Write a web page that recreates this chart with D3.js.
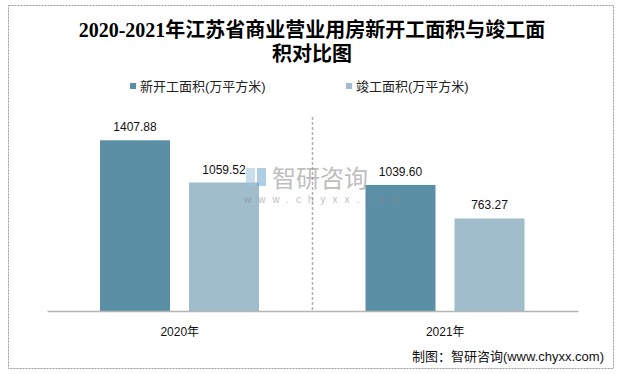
<!DOCTYPE html>
<html>
  <head>
    <meta charset="utf-8">
    <title>江苏省商业营业用房新开工面积与竣工面积</title>
    <style>
      body { margin: 0; background: #fff; }
      text { font-family: "Liberation Sans", "Noto Sans CJK SC", sans-serif; }
    </style>
  </head>
  <body>
    <script src="https://d3js.org/d3.v7.min.js"></script>
    <script>
      // data
      var years = ["2020年", "2021年"];
      var seriesNames = ["新开工面积(万平方米)", "竣工面积(万平方米)"];
      var newStart = [1407.88, 1039.60];
      var completed = [1059.52, 763.27];
      var colors = ["#5b8fa5", "#9fbdca"];

      var W = 626, H = 374;
      var margin = {top: 117, right: 48, bottom: 63, left: 47},
          width = W - margin.left - margin.right,
          height = H - margin.top - margin.bottom;

      var svg = d3.select("body").append("svg")
          .attr("width", W)
          .attr("height", H);

      // outer dotted frame
      svg.append("rect")
          .attr("x", 8.5).attr("y", 5.5)
          .attr("width", 605).attr("height", 363)
          .attr("fill", "none")
          .attr("stroke", "#9a9a9a")
          .attr("stroke-dasharray", "2,1");

      // title
      var title = svg.append("text")
          .attr("text-anchor", "middle")
          .style("font-family", "'Liberation Serif', 'Noto Sans CJK SC', serif")
          .style("font-weight", "bold")
          .style("font-size", "20px")
          .attr("fill", "#000");
      title.append("tspan").attr("x", 312).attr("y", 37).text("2020-2021年江苏省商业营业用房新开工面积与竣工面");
      title.append("tspan").attr("x", 312).attr("y", 61).text("积对比图");

      // scales
      var x0 = d3.scaleBand().domain(years).range([0, width]);
      var x1 = d3.scaleBand().domain([0, 1]).range([53, 212]).paddingInner(0.2135);
      var y = d3.scaleLinear().domain([0, 1600]).range([height, 0]);

      var g = svg.append("g")
          .attr("transform", "translate(" + margin.left + "," + margin.top + ")");

      // legend
      var legend = svg.append("g");
      var legendX = [130, 346];
      seriesNames.forEach(function(name, i) {
        legend.append("rect")
            .attr("x", legendX[i]).attr("y", 83)
            .attr("width", 6).attr("height", 6)
            .attr("fill", colors[i]);
        legend.append("text")
            .attr("x", legendX[i] + 10).attr("y", 91)
            .style("font-size", "13px")
            .attr("fill", "#222")
            .text(name);
      });

      // watermark
      var wm = svg.append("g").attr("opacity", 0.55);
      wm.append("rect").attr("x", 246).attr("y", 168).attr("width", 9).attr("height", 18).attr("fill", "#9fc3df");
      wm.append("rect").attr("x", 257).attr("y", 168).attr("width", 9).attr("height", 18).attr("fill", "#6fa6d0");
      wm.append("text")
          .attr("x", 272).attr("y", 187)
          .style("font-size", "24px")
          .attr("fill", "#8a8a8a")
          .text("智研咨询");
      wm.append("text")
          .attr("x", 244).attr("y", 203)
          .style("font-size", "10px")
          .style("letter-spacing", "7px")
          .attr("fill", "#8a8a8a")
          .text("www.chyxx.com");

      // dashed separator between categories
      g.append("line")
          .attr("x1", x0.bandwidth()).attr("x2", x0.bandwidth())
          .attr("y1", 0).attr("y2", height)
          .attr("stroke", "#b0b0b0")
          .attr("stroke-width", 1.5)
          .attr("stroke-dasharray", "3,2");

      var data = years.map(function(yr, i) {
        return {year: yr, values: [newStart[i], completed[i]]};
      });

      var groups = g.selectAll(".year")
          .data(data)
          .enter().append("g")
          .attr("class", "year")
          .attr("transform", function(d) { return "translate(" + x0(d.year) + ",0)"; });

      groups.selectAll("rect")
          .data(function(d) { return d.values; })
          .enter().append("rect")
          .attr("x", function(d, i) { return x1(i); })
          .attr("width", x1.bandwidth())
          .attr("y", function(d) { return y(d); })
          .attr("height", function(d) { return height - y(d); })
          .attr("fill", function(d, i) { return colors[i]; });

      groups.selectAll(".label")
          .data(function(d) { return d.values; })
          .enter().append("text")
          .attr("class", "label")
          .attr("x", function(d, i) { return x1(i) + x1.bandwidth() / 2; })
          .attr("y", function(d) { return y(d) - 9; })
          .attr("text-anchor", "middle")
          .style("font-size", "12px")
          .attr("fill", "#111")
          .text(function(d) { return d.toFixed(2); });

      // x axis
      var xAxis = g.append("g")
          .attr("transform", "translate(0," + height + ")")
          .call(d3.axisBottom(x0).tickSize(0).tickPadding(16));
      xAxis.select(".domain").attr("stroke", "#b5b5b5").attr("stroke-width", 1.5);
      xAxis.selectAll("text")
          .style("font-size", "12px")
          .style("font-family", "'Liberation Sans', 'Noto Sans CJK SC', sans-serif")
          .attr("fill", "#111");

      // source
      svg.append("text")
          .attr("x", 604).attr("y", 361)
          .attr("text-anchor", "end")
          .style("font-size", "13px")
          .attr("fill", "#111")
          .text("制图：智研咨询(www.chyxx.com)");
    </script>
  </body>
</html>
